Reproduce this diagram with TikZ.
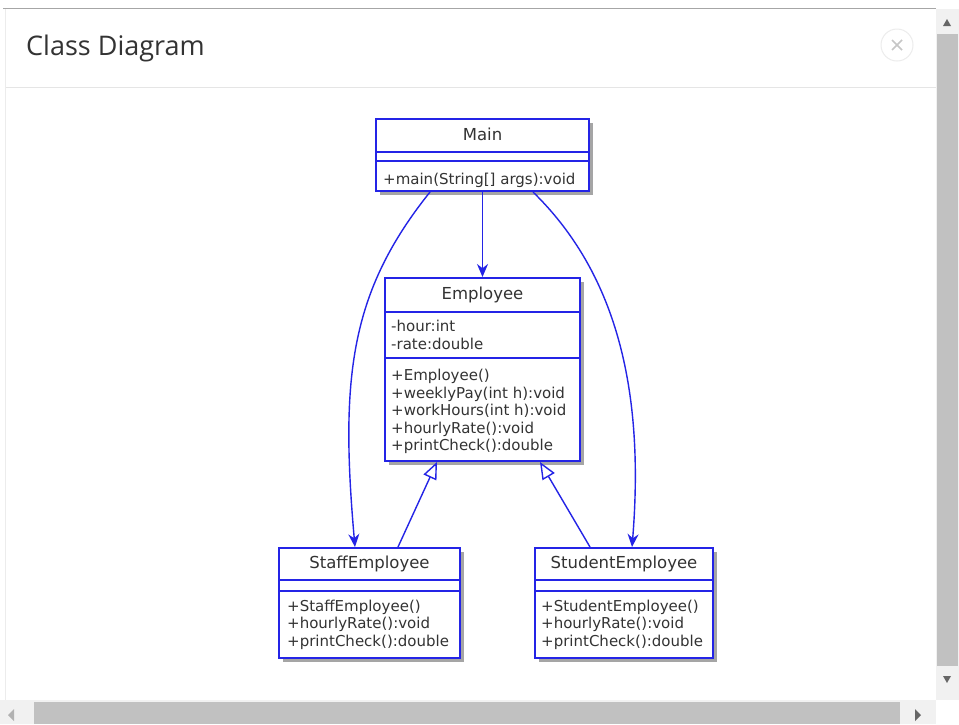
\documentclass[tikz,border=0pt]{standalone}
\usepackage{fontspec}
\setmainfont{DejaVu Sans}
\newfontfamily\headfont{Open Sans}
\usetikzlibrary{arrows.meta,shadows,calc}
\definecolor{umlblue}{HTML}{2424E6}
\definecolor{txtgray}{HTML}{333333}
\definecolor{thumbgray}{HTML}{C1C1C1}
\definecolor{trackgray}{HTML}{F1F1F1}
\tikzset{
  classbox/.style={draw=umlblue, line width=2pt, fill=white, inner sep=0pt,
    drop shadow={shadow xshift=3.5pt, shadow yshift=-3.5pt, opacity=0.7, fill=gray}},
  ctitle/.style={text=txtgray, font=\fontsize{16.5}{18}\selectfont, inner sep=0pt, anchor=base},
  cmember/.style={text=txtgray, font=\fontsize{15}{17}\selectfont, inner sep=0pt, anchor=base west},
  sepline/.style={draw=umlblue, line width=1.8pt},
  assoc/.style={draw=umlblue, line width=1.4pt, -{Stealth[length=13pt,width=11pt]}},
  inherit/.style={draw=umlblue, line width=1.4pt, -{Triangle[open,length=17pt,width=14pt,fill=white]}},
}
\begin{document}
\begin{tikzpicture}[x=1pt,y=-1pt]
\useasboundingbox (0,0) rectangle (959,724);
\fill[white] (0,0) rectangle (959,724);
% dialog frame
\draw[gray!70, line width=1pt] (3,8.5) -- (936,8.5);
\draw[gray!15, line width=1pt] (5,9) -- (5,700);
\draw[gray!20, line width=1pt] (6,87) -- (936,87);
\node[anchor=west, text=txtgray, font=\headfont\fontsize{27}{30}\selectfont, inner sep=0pt] (hdr) at (26,48) {Class Diagram};
\node[circle, draw=gray!15, line width=1pt, minimum size=32pt, inner sep=0pt] (closebtn) at (897,45) {};
\draw[gray!45, line width=1.6pt] ($(closebtn)+(-5,-5)$) -- ($(closebtn)+(5,5)$);
\draw[gray!45, line width=1.6pt] ($(closebtn)+(-5,5)$) -- ($(closebtn)+(5,-5)$);
% scrollbars
\fill[trackgray] (936,9) rectangle (959,700);
\fill[thumbgray] (937,34) rectangle (958,666);
\fill[gray!80!black] (943,26) -- (951,26) -- (947,19) -- cycle;
\fill[gray!80!black] (943,676) -- (951,676) -- (947,683) -- cycle;
\fill[trackgray] (0,700) rectangle (936,724);
\fill[thumbgray] (34,702) rectangle (900,724);
\fill[gray!60] (14,709) -- (14,721) -- (8,715) -- cycle;
\fill[gray!80!black] (915,709) -- (915,721) -- (921,715) -- cycle;

% Main
\node[classbox, minimum width=213pt, minimum height=72pt] (main) at (482.5,155) {};
\node[ctitle] (mainT) at (482.5,140) {Main};
\draw[sepline] (main.west |- 0,152) -- (main.east |- 0,152);
\draw[sepline] (main.west |- 0,161) -- (main.east |- 0,161);
\node[cmember] (mainM) at (383,184) {+main(String[] args):void};

% Employee
\node[classbox, minimum width=195pt, minimum height=183pt] (emp) at (482.5,369.5) {};
\node[ctitle] (empT) at (482.5,299.5) {Employee};
\draw[sepline] (emp.west |- 0,312) -- (emp.east |- 0,312);
\draw[sepline] (emp.west |- 0,358) -- (emp.east |- 0,358);
\node[cmember] (empA1) at (391,331.5) {-hour:int};
\node[cmember] (empA2) at (391,349) {-rate:double};
\node[cmember] (empM1) at (391,380.5) {+Employee()};
\node[cmember] (empM2) at (391,398) {+weeklyPay(int h):void};
\node[cmember] (empM3) at (391,415.5) {+workHours(int h):void};
\node[cmember] (empM4) at (391,433) {+hourlyRate():void};
\node[cmember] (empM5) at (391,450.5) {+printCheck():double};

% StaffEmployee
\node[classbox, minimum width=181pt, minimum height=110pt] (staff) at (369.5,603) {};
\node[ctitle] (staffT) at (369.5,568) {StaffEmployee};
\draw[sepline] (staff.west |- 0,580) -- (staff.east |- 0,580);
\draw[sepline] (staff.west |- 0,591) -- (staff.east |- 0,591);
\node[cmember] (staffM1) at (287,611) {+StaffEmployee()};
\node[cmember] (staffM2) at (287,628.5) {+hourlyRate():void};
\node[cmember] (staffM3) at (287,646) {+printCheck():double};

% StudentEmployee
\node[classbox, minimum width=178pt, minimum height=110pt] (stud) at (624,603) {};
\node[ctitle] (studT) at (624,568) {StudentEmployee};
\draw[sepline] (stud.west |- 0,580) -- (stud.east |- 0,580);
\draw[sepline] (stud.west |- 0,591) -- (stud.east |- 0,591);
\node[cmember] (studM1) at (541,611) {+StudentEmployee()};
\node[cmember] (studM2) at (541,628.5) {+hourlyRate():void};
\node[cmember] (studM3) at (541,646) {+printCheck():double};

% connectors
\draw[assoc] (main.south) -- (emp.north);
\draw[assoc] ([xshift=-52.5pt]main.south) .. controls +(-80,100) and +(-15,-170) .. ([xshift=-14.5pt]staff.north);
\draw[assoc] ([xshift=50.5pt]main.south) .. controls +(82,80) and +(13,-160) .. ([xshift=8pt]stud.north);
\draw[inherit] ([xshift=28.5pt]staff.north) -- ([xshift=-45.5pt]emp.south);
\draw[inherit] ([xshift=-34pt]stud.north) -- ([xshift=57.5pt]emp.south);
\end{tikzpicture}
\end{document}
